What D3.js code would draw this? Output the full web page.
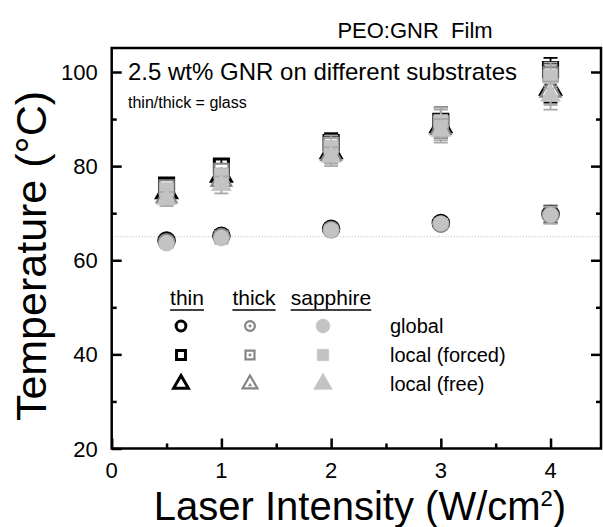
<!DOCTYPE html>
<html>
<head>
<meta charset="utf-8">
<script src="https://cdn.jsdelivr.net/npm/d3@7"></script>
<style>
  body { margin: 0; background: #fff; }
  text { font-family: "Liberation Sans", Arial, sans-serif; fill: #000; }
</style>
</head>
<body>
<script>
const WIDTH = 603;
const HEIGHT = 527;
const MARGIN = { top: 48, right: 2, bottom: 78.5, left: 111.7 };

// laser intensity (W/cm^2)
const intensity = [0.5, 1, 2, 3, 4];

// temperatures (°C)
const thinGlobal = [64.2, 65.2, 66.7, 67.9, 69.8];
const thinForced = [76, 80, 85, 89.5, 100.5];
const thinFree = [74.5, 78, 83, 88.5, 96.5];
const thickGlobal = [63.9, 65, 66.5, 67.7, 69.6];
const thickForced = [75.5, 79, 84.5, 89, 99.5];
const thickFree = [73.5, 77, 82.5, 88, 96];
const sapphireGlobal = [63.6, 64.7, 66.4, 67.8, 69.6];
const sapphireForced = [75, 78, 84, 89.5, 99];
const sapphireFree = [73, 76, 82, 87.5, 95];

// error bars
const errGlobal = [0.9, 1.2, 1, 1, 1.8];
const errForced = [1.2, 1.5, 2, 3, 2.5];
const errFree = [1.5, 1.8, 2, 2.5, 3];

const xTicks = [0, 1, 2, 3, 4];
const yTicks = [20, 40, 60, 80, 100];
const refLine = 65;

const substrates = [
  { name: "thin", global: thinGlobal, forced: thinForced, free: thinFree },
  { name: "thick", global: thickGlobal, forced: thickForced, free: thickFree },
  { name: "sapphire", global: sapphireGlobal, forced: sapphireForced, free: sapphireFree },
];
const kinds = [
  { key: "global", label: "global", err: errGlobal, shape: d3.symbolCircle },
  { key: "forced", label: "local (forced)", err: errForced, shape: d3.symbolSquare },
  { key: "free", label: "local (free)", err: errFree, shape: d3.symbolTriangle },
];

const STYLE = {
  thin: { fill: "none", stroke: "#000", sw: 3, dot: false },
  thick: { fill: "#fff", stroke: "#858585", sw: 2.2, dot: true },
  sapphire: { fill: "#c3c3c3", stroke: "#bdbdbd", sw: 0.5, dot: false },
};
const SIZE = { global: 190, forced: 200, free: 170 };

const svg = d3.select("body").append("svg")
  .attr("width", WIDTH)
  .attr("height", HEIGHT);

const x = d3.scaleLinear().domain([0, 4.46]).range([MARGIN.left, WIDTH - MARGIN.right]);
const y = d3.scaleLinear().domain([20, 105.1]).range([HEIGHT - MARGIN.bottom, MARGIN.top]);

// reference dotted line
svg.append("line")
  .attr("x1", x(0)).attr("x2", x(4.46))
  .attr("y1", y(refLine)).attr("y2", y(refLine))
  .attr("stroke", "#b5b5b5").attr("stroke-width", 1)
  .attr("stroke-dasharray", "1,2");

// axes
const xMinor = d3.range(0.5, 4.46, 1);
const yMinor = d3.range(30, 105, 20);

const gx = svg.append("g").attr("transform", `translate(0,${y(20)})`);
gx.call(d3.axisTop(x).tickValues(xTicks).tickSize(10).tickFormat(""));
gx.append("g").call(d3.axisTop(x).tickValues(xMinor).tickSize(5).tickFormat(""));

const gy = svg.append("g").attr("transform", `translate(${x(0)},0)`);
gy.call(d3.axisRight(y).tickValues(yTicks).tickSize(10).tickFormat(""));
gy.append("g").call(d3.axisRight(y).tickValues(yMinor).tickSize(5).tickFormat(""));

const gr = svg.append("g").attr("transform", `translate(${x(4.46)},0)`);
gr.call(d3.axisLeft(y).tickValues(yTicks.slice(1)).tickSize(10).tickFormat(""));
gr.append("g").call(d3.axisLeft(y).tickValues(yMinor).tickSize(5).tickFormat(""));

svg.selectAll(".domain").remove();
svg.selectAll(".tick line").attr("stroke", "#000").attr("stroke-width", 2.5);

// frame
svg.append("rect")
  .attr("x", x(0)).attr("y", y(105.1))
  .attr("width", x(4.46) - x(0)).attr("height", y(20) - y(105.1))
  .attr("fill", "none").attr("stroke", "#000").attr("stroke-width", 2.5);

// tick labels
svg.selectAll(".xlab").data(xTicks).enter().append("text")
  .attr("x", (d) => x(d)).attr("y", y(20) + 29)
  .attr("text-anchor", "middle").attr("font-size", 22)
  .text((d) => d);
svg.selectAll(".ylab").data(yTicks).enter().append("text")
  .attr("x", x(0) - 14).attr("y", (d) => y(d) + 8)
  .attr("text-anchor", "end").attr("font-size", 22)
  .text((d) => d);

// titles
svg.append("text").attr("x", 415).attr("y", 38)
  .attr("text-anchor", "middle").attr("font-size", 22)
  .attr("xml:space", "preserve")
  .text("PEO:GNR  Film");

const xl = svg.append("text").attr("x", 360).attr("y", 520)
  .attr("text-anchor", "middle").attr("font-size", 40);
xl.append("tspan").text("Laser Intensity (W/cm");
xl.append("tspan").attr("dy", -14).attr("font-size", 22).text("2");
xl.append("tspan").attr("dy", 14).text(")");

svg.append("text")
  .attr("transform", "translate(46,256) rotate(-90)")
  .attr("text-anchor", "middle").attr("font-size", 43)
  .text("Temperature (\u00B0C)");

svg.append("text").attr("x", 128).attr("y", 80).attr("font-size", 24)
  .text("2.5 wt% GNR on different substrates");
svg.append("text").attr("x", 128).attr("y", 108).attr("font-size", 16)
  .text("thin/thick = glass");

// data: error bars then markers, sapphire drawn last
const plot = svg.append("g");
substrates.forEach((s) => {
  const st = STYLE[s.name];
  kinds.forEach((k) => {
    const pts = intensity.map((v, i) => ({ x: v, y: s[k.key][i], e: k.err[i] }));
    const eb = plot.append("g").attr("stroke", st.stroke === "#000" ? "#000" : "#a8a8a8")
      .attr("stroke-width", 1.8);
    eb.selectAll("line.v").data(pts).enter().append("line")
      .attr("x1", (d) => x(d.x)).attr("x2", (d) => x(d.x))
      .attr("y1", (d) => y(d.y - d.e)).attr("y2", (d) => y(d.y + d.e));
    [-1, 1].forEach((sg) => {
      eb.selectAll(null).data(pts).enter().append("line")
        .attr("x1", (d) => x(d.x) - 7).attr("x2", (d) => x(d.x) + 7)
        .attr("y1", (d) => y(d.y + sg * d.e)).attr("y2", (d) => y(d.y + sg * d.e));
    });
    plot.selectAll(null).data(pts).enter().append("path")
      .attr("transform", (d) => `translate(${x(d.x)},${y(d.y)})`)
      .attr("d", d3.symbol().type(k.shape).size(SIZE[k.key]))
      .attr("fill", st.fill).attr("stroke", st.stroke).attr("stroke-width", st.sw);
  });
});

// legend
const HEAD_X = [187, 254, 331];
const LEG_X = [181, 250, 323];
const LEG_Y = [326, 355, 384];
const leg = svg.append("g");
substrates.forEach((s, i) => {
  const t = leg.append("text").attr("x", HEAD_X[i]).attr("y", 305)
    .attr("text-anchor", "middle").attr("font-size", 21).text(s.name);
  const w = t.node().getComputedTextLength();
  leg.append("line")
    .attr("x1", HEAD_X[i] - w / 2).attr("x2", HEAD_X[i] + w / 2)
    .attr("y1", 310).attr("y2", 310)
    .attr("stroke", "#000").attr("stroke-width", 1.3);
  const st = STYLE[s.name];
  kinds.forEach((k, j) => {
    const sz = s.name === "sapphire" ? { global: 150, forced: 130, free: 150 }[k.key]
      : { global: 75, forced: 80, free: 95 }[k.key];
    leg.append("path")
      .attr("transform", `translate(${LEG_X[i]},${LEG_Y[j]})`)
      .attr("d", d3.symbol().type(k.shape).size(sz))
      .attr("fill", st.fill).attr("stroke", st.stroke).attr("stroke-width", st.sw);
    if (st.dot) {
      leg.append("path")
        .attr("transform", `translate(${LEG_X[i]},${LEG_Y[j] + (k.key === "free" ? 1 : 0)})`)
        .attr("d", d3.symbol().type(k.shape).size(7))
        .attr("fill", st.stroke);
    }
  });
});
kinds.forEach((k, j) => {
  leg.append("text").attr("x", 390).attr("y", LEG_Y[j] + 7)
    .attr("font-size", 20).text(k.label);
});
</script>
</body>
</html>
